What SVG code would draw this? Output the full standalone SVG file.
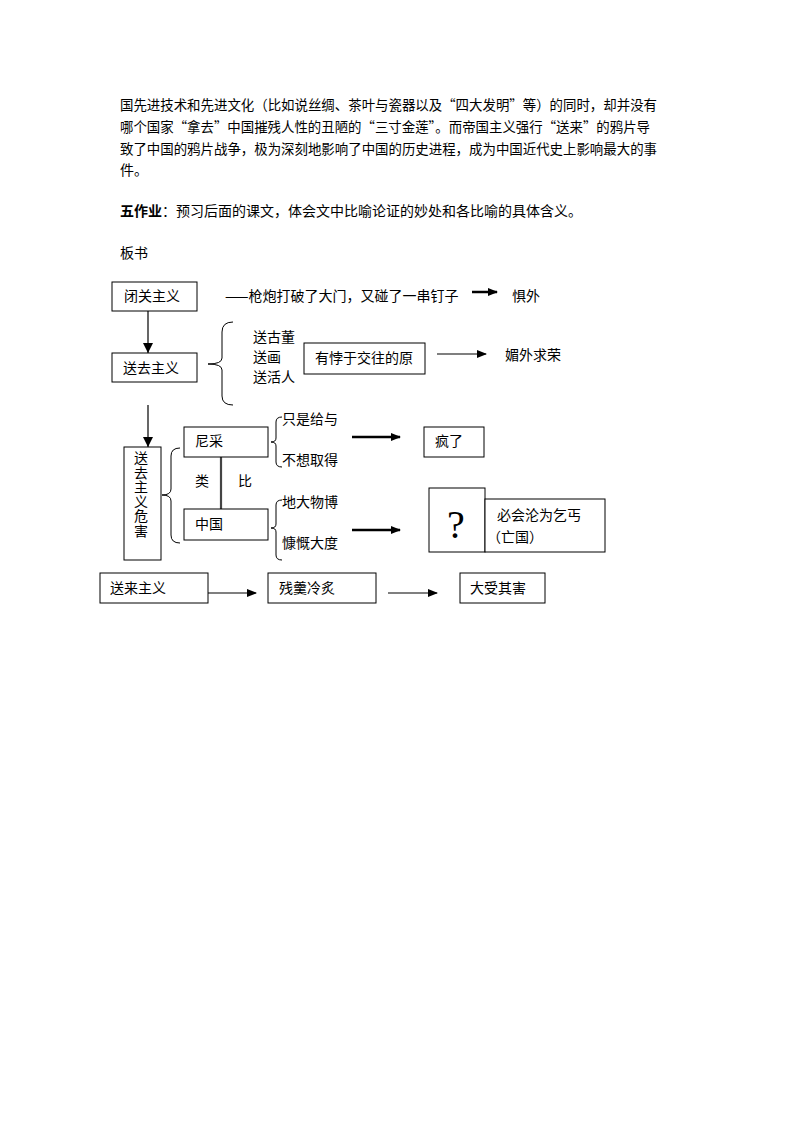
<svg xmlns="http://www.w3.org/2000/svg" width="794" height="1123" viewBox="0 0 794 1123">
<style>
text{font-family:"Noto Sans CJK SC","Liberation Sans",sans-serif;font-size:14px;fill:#000}
.b{fill:#fff;stroke:#000;stroke-width:1}
.ln{stroke:#000;stroke-width:1.2;fill:none}
.tk{stroke:#000;stroke-width:2.5;fill:none}
.br{stroke:#000;stroke-width:1;fill:none}
</style>
<defs>
<marker id="ah" markerWidth="10" markerHeight="8" refX="9" refY="4" orient="auto" markerUnits="userSpaceOnUse">
<path d="M0,0 L10,4 L0,8 z" fill="#000"/>
</marker>
<marker id="ahv" markerWidth="10" markerHeight="10" refX="10" refY="5" orient="auto" markerUnits="userSpaceOnUse">
<path d="M0,0 L10,5 L0,10 z" fill="#000"/>
</marker>
</defs>
<g id="paragraph">
<text x="120" y="110" textLength="537" lengthAdjust="spacingAndGlyphs">国先进技术和先进文化（比如说丝绸、茶叶与瓷器以及“四大发明”等）的同时，却并没有</text>
<text x="120" y="132" textLength="530" lengthAdjust="spacingAndGlyphs">哪个国家“拿去”中国摧残人性的丑陋的“三寸金莲”。而帝国主义强行“送来”的鸦片导</text>
<text x="120" y="154" textLength="537" lengthAdjust="spacingAndGlyphs">致了中国的鸦片战争，极为深刻地影响了中国的历史进程，成为中国近代史上影响最大的事</text>
<text x="120" y="175">件。</text>
<text x="120" y="216"><tspan font-weight="bold">五作业</tspan>：预习后面的课文，体会文中比喻论证的妙处和各比喻的具体含义。</text>
<text x="120" y="258">板书</text>
</g>
<g id="connectors">
<line class="ln" x1="148" y1="311" x2="148" y2="353" marker-end="url(#ahv)"/>
<line class="ln" x1="148" y1="405" x2="148" y2="447" marker-end="url(#ahv)"/>
<line class="tk" x1="472" y1="292" x2="497" y2="292" marker-end="url(#ah)"/>
<line class="ln" x1="437" y1="354" x2="486" y2="354" marker-end="url(#ah)"/>
<line x1="221" y1="457" x2="221" y2="509" stroke="#444" stroke-width="2.2"/>
<line class="tk" x1="352" y1="437" x2="400" y2="437" marker-end="url(#ah)"/>
<line class="tk" x1="352" y1="530" x2="400" y2="530" marker-end="url(#ah)"/>
<line class="ln" x1="208" y1="593" x2="256" y2="593" marker-end="url(#ah)"/>
<line class="ln" x1="388" y1="593" x2="437" y2="593" marker-end="url(#ah)"/>
<path class="br" d="M233,322 Q222,322 222,332 L222,358 Q222,364 208,364 Q222,364 222,370 L222,396 Q222,405 233,405"/>
<path class="br" d="M180,448 Q171,448 171,456 L171,489 Q171,495 162,495 Q171,495 171,501 L171,535 Q171,543 180,543"/>
<path class="br" d="M282,417 Q276,417 276,422 L276,438 Q276,442 271,442 Q276,442 276,446 L276,462 Q276,467 282,467"/>
<path class="br" d="M282,500 Q276,500 276,505 L276,524 Q276,528 271,528 Q276,528 276,532 L276,555 Q276,560 282,560"/>
</g>
<g id="n-biguan"><rect class="b" x="112" y="282" width="85" height="29"/><text x="124" y="301">闭关主义</text></g>
<g id="t-qiangpao"><text x="225" y="301">——枪炮打破了大门，又碰了一串钉子</text></g>
<g id="t-juwai"><text x="512" y="301">惧外</text></g>
<g id="n-songqu"><rect class="b" x="112" y="353" width="85" height="29"/><text x="123" y="373">送去主义</text></g>
<g id="t-songlist"><text x="253" y="342">送古董</text><text x="253" y="362">送画</text><text x="253" y="382">送活人</text></g>
<g id="n-youbei"><rect class="b" x="304" y="343" width="121" height="31"/><text x="315" y="363">有悖于交往的原</text></g>
<g id="t-meiwai"><text x="505" y="360">媚外求荣</text></g>
<g id="n-weihai"><rect class="b" x="124" y="447" width="37" height="113"/>
<text x="141" y="451" writing-mode="vertical-rl" style="writing-mode:vertical-rl;letter-spacing:0.5px">送去主义危害</text></g>
<g id="n-nicai"><rect class="b" x="184" y="427" width="84" height="30"/><text x="195" y="446">尼采</text></g>
<g id="t-leibi"><text x="195" y="486">类</text><text x="238" y="486">比</text></g>
<g id="n-zhongguo"><rect class="b" x="184" y="509" width="84" height="31"/><text x="195" y="529">中国</text></g>
<g id="t-nicai-brace"><text x="282" y="424">只是给与</text><text x="282" y="465">不想取得</text></g>
<g id="t-zg-brace"><text x="282" y="507">地大物博</text><text x="282" y="548">慷慨大度</text></g>
<g id="n-fengle"><rect class="b" x="424" y="427" width="60" height="30"/><text x="435" y="446">疯了</text></g>
<g id="n-question"><rect class="b" x="429" y="488" width="56" height="64"/><text x="456" y="538" text-anchor="middle" style="font-family:'Liberation Serif',serif;font-size:40px">?</text></g>
<g id="n-qigai"><rect class="b" x="485" y="499" width="120" height="53"/><text x="497" y="520">必会沦为乞丐</text><text x="487" y="542">（亡国）</text></g>
<g id="n-songlai"><rect class="b" x="100" y="573" width="108" height="30"/><text x="110" y="593">送来主义</text></g>
<g id="n-cangeng"><rect class="b" x="268" y="573" width="108" height="30"/><text x="279" y="593">残羹冷炙</text></g>
<g id="n-dashou"><rect class="b" x="460" y="573" width="85" height="30"/><text x="470" y="593">大受其害</text></g>
</svg>
